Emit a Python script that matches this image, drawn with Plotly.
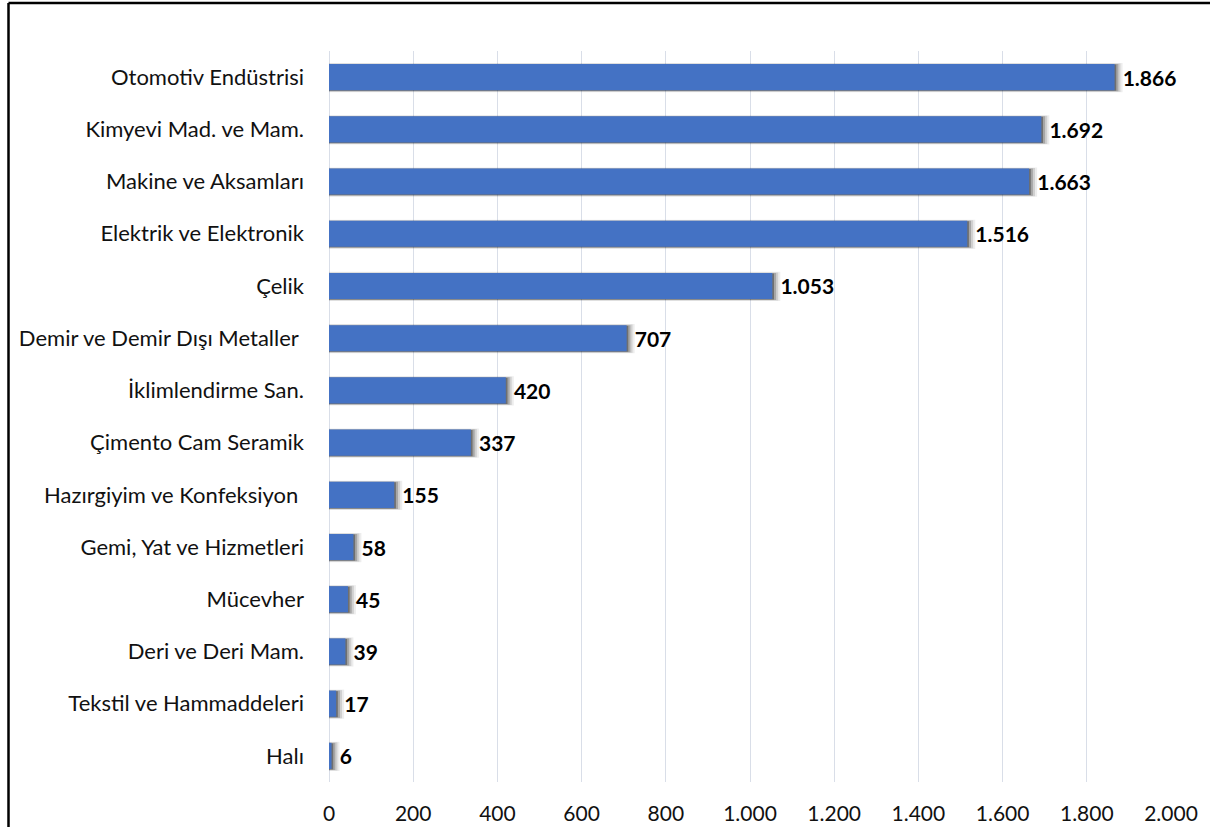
import plotly.graph_objects as go

categories = [
    "Otomotiv Endüstrisi",
    "Kimyevi Mad. ve Mam.",
    "Makine ve Aksamları",
    "Elektrik ve Elektronik",
    "Çelik",
    "Demir ve Demir Dışı Metaller ",
    "İklimlendirme San.",
    "Çimento Cam Seramik",
    "Hazırgiyim ve Konfeksiyon ",
    "Gemi, Yat ve Hizmetleri",
    "Mücevher",
    "Deri ve Deri Mam.",
    "Tekstil ve Hammaddeleri",
    "Halı",
]
values = [1866, 1692, 1663, 1516, 1053, 707, 420, 337, 155, 58, 45, 39, 17, 6]
tick_vals = [0, 200, 400, 600, 800, 1000, 1200, 1400, 1600, 1800, 2000]

FONT = "Lato"
fig = go.Figure()

# soft blurred shadow built from stacked translucent layers
shadow_layers = [(19, 0.56, 0.07), (14, 0.54, 0.12), (9, 0.52, 0.20), (4, 0.50, 0.33)]
for dx, w, op in shadow_layers:
    fig.add_trace(go.Bar(
        y=categories, x=[v + dx for v in values], orientation="h",
        marker=dict(color=f"rgba(0,0,0,{op})", line=dict(width=0)),
        width=w, offset=-w / 2 + 0.01,
        hoverinfo="skip", showlegend=False,
    ))

fig.add_trace(go.Bar(
    y=categories, x=values, orientation="h",
    marker=dict(color="#4472C4", line=dict(width=0)),
    width=0.5, offset=-0.25,
    text=values, texttemplate=" %{x:,.0f}", textposition="outside",
    textfont=dict(family=FONT, size=21, color="#000000", weight="bold"),
    cliponaxis=False, showlegend=False,
))

W, H = 1210, 827
L, R, T, B = 329, 39, 51, 45
PW, PH = W - L - R, H - T - B
fig.update_layout(
    width=W, height=H,
    margin=dict(l=L, r=R, t=T, b=B, autoexpand=False),
    paper_bgcolor="white", plot_bgcolor="white",
    barmode="overlay", separators=",.",
    font=dict(family=FONT, size=22, color="#111111"),
    xaxis=dict(
        range=[0, 2000], tickvals=tick_vals, tickformat=",.0f",
        showgrid=True, gridcolor="#D9DEE8", gridwidth=1,
        zeroline=True, zerolinecolor="#D9DEE8", zerolinewidth=1,
        showline=False, ticks="", ticklabelstandoff=17, automargin=False,
        tickfont=dict(family=FONT, size=21, color="#111111"),
    ),
    yaxis=dict(
        categoryorder="array", categoryarray=categories, autorange="reversed",
        showgrid=False, showline=False, ticks="", ticklabelstandoff=24, automargin=False,
        tickfont=dict(family=FONT, size=22, color="#111111"),
    ),
    shapes=[
        dict(type="line", xref="paper", yref="paper",
             x0=(8.5 - L) / PW, x1=(8.5 - L) / PW, y0=-B / PH, y1=(PH + T - 3) / PH,
             line=dict(color="black", width=2.5)),
        dict(type="line", xref="paper", yref="paper",
             x0=(8.5 - L) / PW, x1=(W - L) / PW, y0=(PH + T - 3) / PH, y1=(PH + T - 3) / PH,
             line=dict(color="black", width=2.5)),
    ],
)

fig.write_html(
    "out.html",
    config={"displayModeBar": False},
    post_script="document.body.style.margin='0';document.body.style.overflow='hidden';",
)
